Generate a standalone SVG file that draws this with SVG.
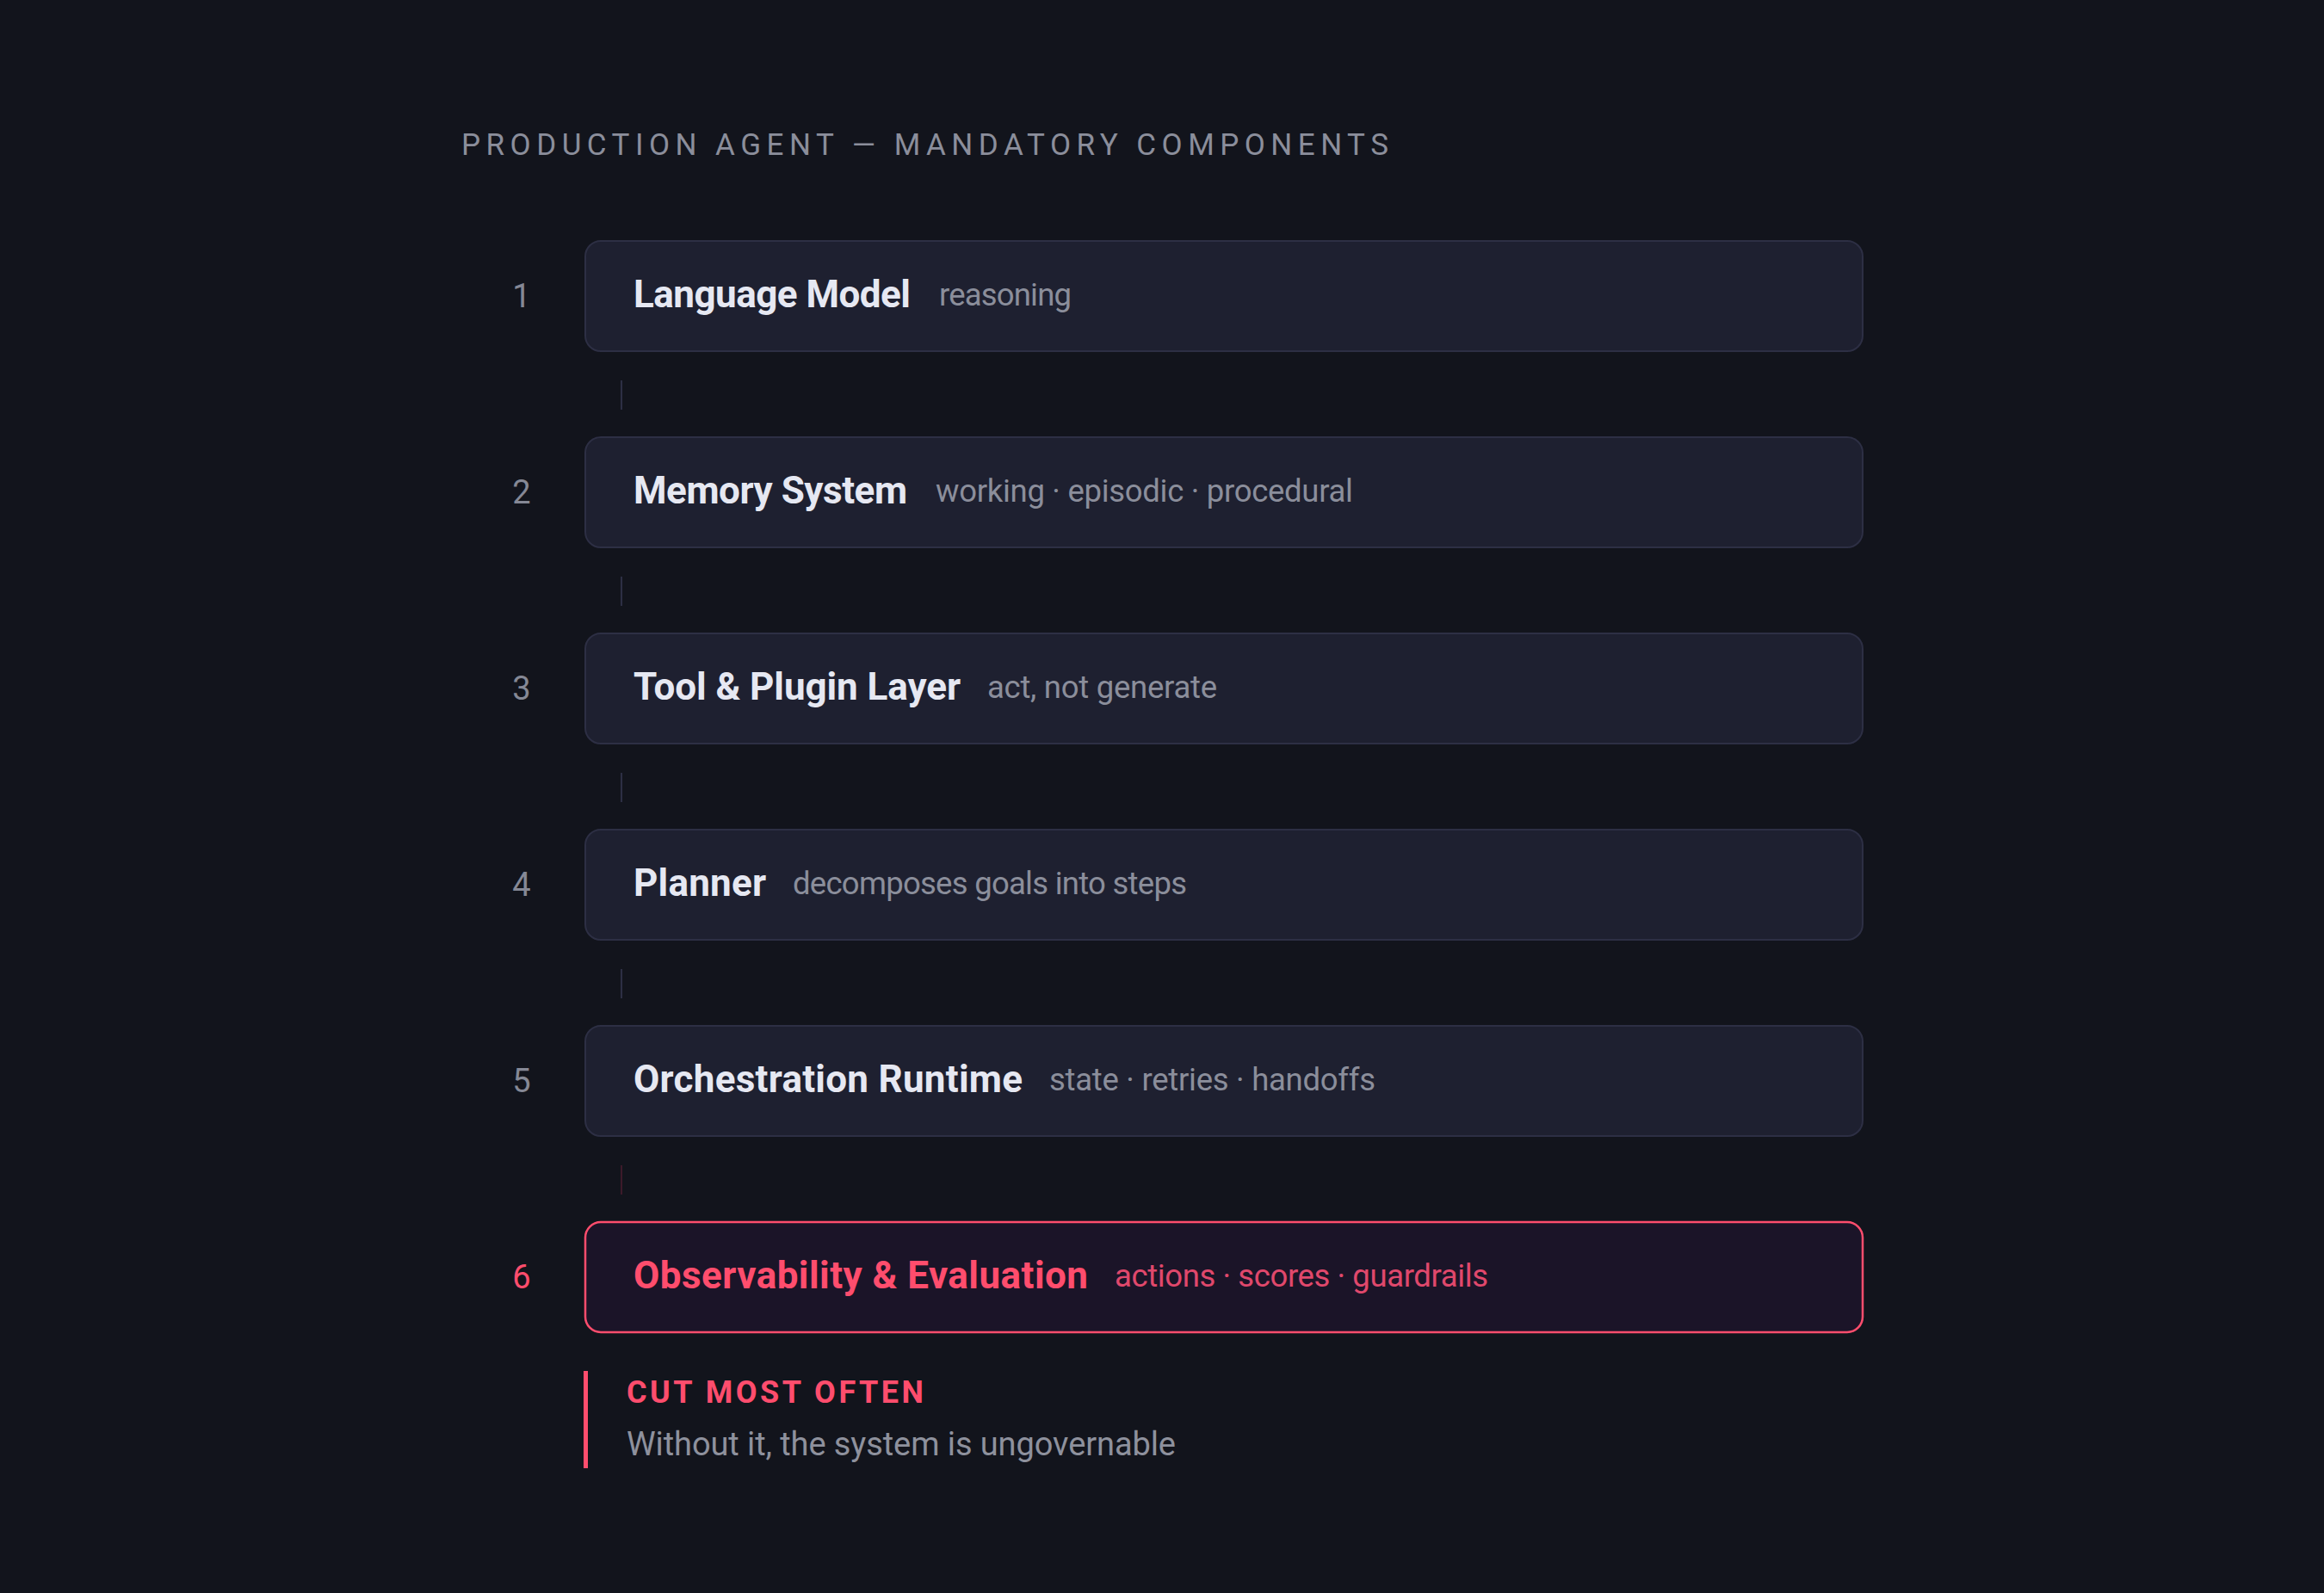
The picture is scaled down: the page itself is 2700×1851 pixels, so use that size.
<svg xmlns="http://www.w3.org/2000/svg" width="2700" height="1851" viewBox="0 0 2700 1851">
<style>
.bg{fill:#12141c}
.box{fill:#1e2030;stroke:#2d2f44;stroke-width:2}
.box.hot{fill:#1b1428;stroke:#ff4d6d;stroke-width:2.5}
.num{font-family:Roboto,"Liberation Sans",sans-serif;font-size:38px;fill:#858895;text-anchor:middle}
.num.hot{fill:#ff4d6d}
.lbl{font-family:Roboto,"Liberation Sans",sans-serif;font-size:44px;font-weight:700;fill:#e6e8f2}
.lbl.hot{fill:#ff4d6d}
.sub{font-family:Roboto,"Liberation Sans",sans-serif;font-size:36.5px;fill:#8b8e9b}
.sub.hot{fill:#e0486c}
.title{font-family:Roboto,"Liberation Sans",sans-serif;font-size:35px;fill:#8b8e9b}
.conn{stroke:#2d2f44;stroke-width:2}
.conn.hot{stroke:#3d1a2a}
.warn{font-family:Roboto,"Liberation Sans",sans-serif;font-size:36px;font-weight:700;fill:#ff4d6d}
.note{font-family:Roboto,"Liberation Sans",sans-serif;font-size:38px;fill:#8e919d}
</style>
<rect class="bg" x="0" y="0" width="2700" height="1851"/>
<text class="title" x="536" y="180" textLength="1077" lengthAdjust="spacing">PRODUCTION AGENT — MANDATORY COMPONENTS</text>
<g id="connectors">
<line class="conn" x1="722" y1="442" x2="722" y2="476"/>
<line class="conn" x1="722" y1="670" x2="722" y2="704"/>
<line class="conn" x1="722" y1="898" x2="722" y2="932"/>
<line class="conn" x1="722" y1="1126" x2="722" y2="1160"/>
<line class="conn hot" x1="722" y1="1354" x2="722" y2="1388"/>
</g>
<g id="node-1">
<text class="num" x="606" y="357">1</text>
<rect class="box" x="680" y="280" width="1484" height="128" rx="18"/>
<text class="lbl" x="736" y="357" textLength="322" lengthAdjust="spacing">Language Model</text>
<text class="sub" x="1091" y="355" textLength="154" lengthAdjust="spacing">reasoning</text>
</g>
<g id="node-2">
<text class="num" x="606" y="585">2</text>
<rect class="box" x="680" y="508" width="1484" height="128" rx="18"/>
<text class="lbl" x="736" y="585" textLength="318" lengthAdjust="spacing">Memory System</text>
<text class="sub" x="1087" y="583" textLength="485" lengthAdjust="spacing">working · episodic · procedural</text>
</g>
<g id="node-3">
<text class="num" x="606" y="813">3</text>
<rect class="box" x="680" y="736" width="1484" height="128" rx="18"/>
<text class="lbl" x="736" y="813" textLength="380" lengthAdjust="spacing">Tool &amp; Plugin Layer</text>
<text class="sub" x="1147" y="811" textLength="267" lengthAdjust="spacing">act, not generate</text>
</g>
<g id="node-4">
<text class="num" x="606" y="1041">4</text>
<rect class="box" x="680" y="964" width="1484" height="128" rx="18"/>
<text class="lbl" x="736" y="1041" textLength="154" lengthAdjust="spacing">Planner</text>
<text class="sub" x="921" y="1039" textLength="458" lengthAdjust="spacing">decomposes goals into steps</text>
</g>
<g id="node-5">
<text class="num" x="606" y="1269">5</text>
<rect class="box" x="680" y="1192" width="1484" height="128" rx="18"/>
<text class="lbl" x="736" y="1269" textLength="452" lengthAdjust="spacing">Orchestration Runtime</text>
<text class="sub" x="1219" y="1267" textLength="379" lengthAdjust="spacing">state · retries · handoffs</text>
</g>
<g id="node-6">
<text class="num hot" x="606" y="1497">6</text>
<rect class="box hot" x="680" y="1420" width="1484" height="128" rx="18"/>
<text class="lbl hot" x="736" y="1497" textLength="528" lengthAdjust="spacing">Observability &amp; Evaluation</text>
<text class="sub hot" x="1295" y="1495" textLength="434" lengthAdjust="spacing">actions · scores · guardrails</text>
</g>
<g id="callout">
<rect x="678" y="1593" width="5" height="113" fill="#ff4d6d"/>
<text class="warn" x="728" y="1630" textLength="345" lengthAdjust="spacing">CUT MOST OFTEN</text>
<text class="note" x="728" y="1691" textLength="638" lengthAdjust="spacing">Without it, the system is ungovernable</text>
</g>
</svg>
